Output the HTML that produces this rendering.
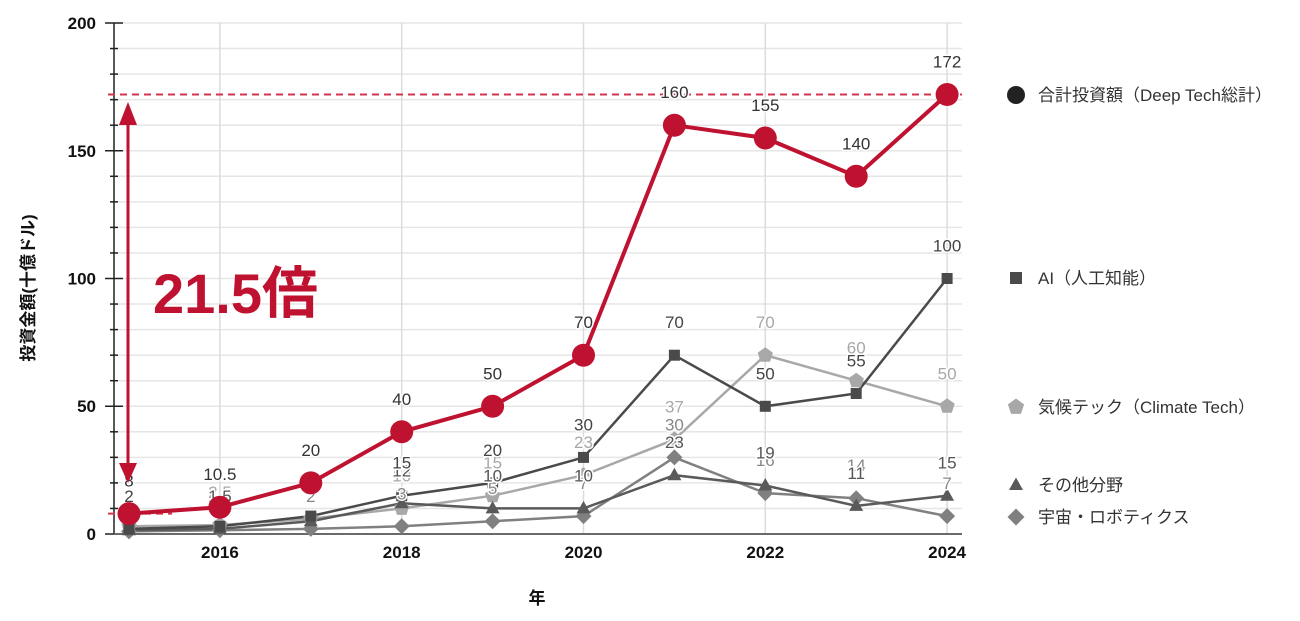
<!DOCTYPE html>
<html><head><meta charset="utf-8">
<style>
html,body{margin:0;padding:0;background:#fff;}
svg{display:block;}
text{font-family:"Liberation Sans","Noto Sans CJK JP",sans-serif;}
.lbl{font-size:17px;text-anchor:middle;paint-order:stroke;stroke:#fff;stroke-width:3px;stroke-linejoin:round;}
.tk{font-size:17px;font-weight:bold;fill:#111;}
.lg{font-size:17px;fill:#333;}
</style></head>
<body>
<svg width="1300" height="621" viewBox="0 0 1300 621" xmlns="http://www.w3.org/2000/svg">
<rect width="1300" height="621" fill="#fff"/>
<!-- horizontal gridlines -->
<g stroke="#e6e6e6" stroke-width="1.5">
<line x1="114" x2="962" y1="508.45" y2="508.45"/>
<line x1="114" x2="962" y1="482.9" y2="482.9"/>
<line x1="114" x2="962" y1="457.35" y2="457.35"/>
<line x1="114" x2="962" y1="431.8" y2="431.8"/>
<line x1="114" x2="962" y1="406.25" y2="406.25"/>
<line x1="114" x2="962" y1="380.7" y2="380.7"/>
<line x1="114" x2="962" y1="355.15" y2="355.15"/>
<line x1="114" x2="962" y1="329.6" y2="329.6"/>
<line x1="114" x2="962" y1="304.05" y2="304.05"/>
<line x1="114" x2="962" y1="278.5" y2="278.5"/>
<line x1="114" x2="962" y1="252.95" y2="252.95"/>
<line x1="114" x2="962" y1="227.4" y2="227.4"/>
<line x1="114" x2="962" y1="201.85" y2="201.85"/>
<line x1="114" x2="962" y1="176.3" y2="176.3"/>
<line x1="114" x2="962" y1="150.75" y2="150.75"/>
<line x1="114" x2="962" y1="125.2" y2="125.2"/>
<line x1="114" x2="962" y1="99.65" y2="99.65"/>
<line x1="114" x2="962" y1="74.1" y2="74.1"/>
<line x1="114" x2="962" y1="48.55" y2="48.55"/>
<line x1="114" x2="962" y1="23" y2="23"/>
</g>
<!-- vertical gridlines -->
<g stroke="#dcdcdc" stroke-width="1.5">
<line x1="219.9" x2="219.9" y1="23" y2="534"/>
<line x1="401.7" x2="401.7" y1="23" y2="534"/>
<line x1="583.5" x2="583.5" y1="23" y2="534"/>
<line x1="765.3" x2="765.3" y1="23" y2="534"/>
<line x1="947.1" x2="947.1" y1="23" y2="534"/>
</g>
<!-- y axis -->
<g stroke="#222" stroke-width="1.5">
<line x1="114" x2="114" y1="23" y2="534"/>
<line x1="105" x2="123" y1="23" y2="23"/>
<line x1="105" x2="123" y1="150.75" y2="150.75"/>
<line x1="105" x2="123" y1="278.5" y2="278.5"/>
<line x1="105" x2="123" y1="406.25" y2="406.25"/>
<line x1="105" x2="123" y1="534" y2="534"/>
<line x1="110" x2="118" y1="48.55" y2="48.55"/>
<line x1="110" x2="118" y1="74.1" y2="74.1"/>
<line x1="110" x2="118" y1="99.65" y2="99.65"/>
<line x1="110" x2="118" y1="125.2" y2="125.2"/>
<line x1="110" x2="118" y1="176.3" y2="176.3"/>
<line x1="110" x2="118" y1="201.85" y2="201.85"/>
<line x1="110" x2="118" y1="227.4" y2="227.4"/>
<line x1="110" x2="118" y1="252.95" y2="252.95"/>
<line x1="110" x2="118" y1="304.05" y2="304.05"/>
<line x1="110" x2="118" y1="329.6" y2="329.6"/>
<line x1="110" x2="118" y1="355.15" y2="355.15"/>
<line x1="110" x2="118" y1="380.7" y2="380.7"/>
<line x1="110" x2="118" y1="431.8" y2="431.8"/>
<line x1="110" x2="118" y1="457.35" y2="457.35"/>
<line x1="110" x2="118" y1="482.9" y2="482.9"/>
<line x1="110" x2="118" y1="508.45" y2="508.45"/>
</g>
<line x1="114" x2="962" y1="534" y2="534" stroke="#6a6a6a" stroke-width="2"/>
<!-- y tick labels -->
<g class="tk" text-anchor="end">
<text x="96" y="29">200</text>
<text x="96" y="157">150</text>
<text x="96" y="284.5">100</text>
<text x="96" y="412">50</text>
<text x="96" y="540">0</text>
</g>
<!-- x tick labels -->
<g class="tk" text-anchor="middle">
<text x="219.9" y="558">2016</text>
<text x="401.7" y="558">2018</text>
<text x="583.5" y="558">2020</text>
<text x="765.3" y="558">2022</text>
<text x="947.1" y="558">2024</text>
</g>
<text x="537" y="604" text-anchor="middle" style="font-size:17px;font-weight:bold;fill:#111;">年</text>
<text transform="translate(34,288) rotate(-90)" text-anchor="middle" style="font-size:17px;font-weight:bold;fill:#111;">投資金額(十億ドル)</text>

<!-- dashed lines -->
<line x1="108" x2="962" y1="94.5" y2="94.5" stroke="#D3354D" stroke-width="2" stroke-dasharray="7 5"/>
<line x1="108" x2="172" y1="513.6" y2="513.6" stroke="#D3354D" stroke-width="2" stroke-dasharray="7 5"/>

<!-- gray series lines -->
<polyline fill="none" stroke="#808080" stroke-width="2.5" points="129,531.4 219.9,530.2 310.8,528.9 401.7,526.3 492.6,521.2 583.5,516.1 674.4,457.4 765.3,493.1 856.2,498.2 947.1,516.1"/>
<polyline fill="none" stroke="#a8a8a8" stroke-width="2.5" points="129,526.3 219.9,525.1 310.8,518.7 401.7,508.4 492.6,495.7 583.5,475.2 674.4,439.5 765.3,355.2 856.2,380.7 947.1,406.3"/>
<polyline fill="none" stroke="#5a5a5a" stroke-width="2.5" points="129,530.2 219.9,528.9 310.8,521.2 401.7,503.3 492.6,508.4 583.5,508.4 674.4,475.2 765.3,485.5 856.2,505.9 947.1,495.7"/>
<polyline fill="none" stroke="#4a4a4a" stroke-width="2.5" points="129,528.9 219.9,526.3 310.8,516.1 401.7,495.7 492.6,482.9 583.5,457.4 674.4,355.2 765.3,406.3 856.2,393.5 947.1,278.5"/>

<!-- space diamonds -->
<g fill="#808080">
<polygon transform="translate(129,531.4)" points="0,-8 8,0 0,8 -8,0"/>
<polygon transform="translate(219.9,530.2)" points="0,-8 8,0 0,8 -8,0"/>
<polygon transform="translate(310.8,528.9)" points="0,-8 8,0 0,8 -8,0"/>
<polygon transform="translate(401.7,526.3)" points="0,-8 8,0 0,8 -8,0"/>
<polygon transform="translate(492.6,521.2)" points="0,-8 8,0 0,8 -8,0"/>
<polygon transform="translate(583.5,516.1)" points="0,-8 8,0 0,8 -8,0"/>
<polygon transform="translate(674.4,457.4)" points="0,-8 8,0 0,8 -8,0"/>
<polygon transform="translate(765.3,493.1)" points="0,-8 8,0 0,8 -8,0"/>
<polygon transform="translate(856.2,498.2)" points="0,-8 8,0 0,8 -8,0"/>
<polygon transform="translate(947.1,516.1)" points="0,-8 8,0 0,8 -8,0"/>
</g>
<!-- climate pentagons -->
<g fill="#a8a8a8">
<polygon transform="translate(129,526.3)" points="0,-8 7.6,-2.5 4.7,6.5 -4.7,6.5 -7.6,-2.5"/>
<polygon transform="translate(219.9,525.1)" points="0,-8 7.6,-2.5 4.7,6.5 -4.7,6.5 -7.6,-2.5"/>
<polygon transform="translate(310.8,518.7)" points="0,-8 7.6,-2.5 4.7,6.5 -4.7,6.5 -7.6,-2.5"/>
<polygon transform="translate(401.7,508.4)" points="0,-8 7.6,-2.5 4.7,6.5 -4.7,6.5 -7.6,-2.5"/>
<polygon transform="translate(492.6,495.7)" points="0,-8 7.6,-2.5 4.7,6.5 -4.7,6.5 -7.6,-2.5"/>
<polygon transform="translate(583.5,475.2)" points="0,-8 7.6,-2.5 4.7,6.5 -4.7,6.5 -7.6,-2.5"/>
<polygon transform="translate(674.4,439.5)" points="0,-8 7.6,-2.5 4.7,6.5 -4.7,6.5 -7.6,-2.5"/>
<polygon transform="translate(765.3,355.2)" points="0,-8 7.6,-2.5 4.7,6.5 -4.7,6.5 -7.6,-2.5"/>
<polygon transform="translate(856.2,380.7)" points="0,-8 7.6,-2.5 4.7,6.5 -4.7,6.5 -7.6,-2.5"/>
<polygon transform="translate(947.1,406.3)" points="0,-8 7.6,-2.5 4.7,6.5 -4.7,6.5 -7.6,-2.5"/>
</g>
<!-- other triangles -->
<g fill="#5a5a5a">
<polygon transform="translate(129,530.2)" points="0,-7.5 7,5 -7,5"/>
<polygon transform="translate(219.9,528.9)" points="0,-7.5 7,5 -7,5"/>
<polygon transform="translate(310.8,521.2)" points="0,-7.5 7,5 -7,5"/>
<polygon transform="translate(401.7,503.3)" points="0,-7.5 7,5 -7,5"/>
<polygon transform="translate(492.6,508.4)" points="0,-7.5 7,5 -7,5"/>
<polygon transform="translate(583.5,508.4)" points="0,-7.5 7,5 -7,5"/>
<polygon transform="translate(674.4,475.2)" points="0,-7.5 7,5 -7,5"/>
<polygon transform="translate(765.3,485.5)" points="0,-7.5 7,5 -7,5"/>
<polygon transform="translate(856.2,505.9)" points="0,-7.5 7,5 -7,5"/>
<polygon transform="translate(947.1,495.7)" points="0,-7.5 7,5 -7,5"/>
</g>
<!-- AI squares -->
<g fill="#4a4a4a">
<rect x="123.5" y="523.4" width="11" height="11"/>
<rect x="214.4" y="520.8" width="11" height="11"/>
<rect x="305.3" y="510.6" width="11" height="11"/>
<rect x="396.2" y="490.2" width="11" height="11"/>
<rect x="487.1" y="477.4" width="11" height="11"/>
<rect x="578" y="451.9" width="11" height="11"/>
<rect x="668.9" y="349.7" width="11" height="11"/>
<rect x="759.8" y="400.8" width="11" height="11"/>
<rect x="850.7" y="388" width="11" height="11"/>
<rect x="941.6" y="273" width="11" height="11"/>
</g>

<!-- gray labels -->
<g class="lbl" fill="#a8a8a8">
<text x="219.9" y="498">2.5</text>
<text x="401.7" y="481.4">10</text>
<text x="492.6" y="468.7">15</text>
<text x="583.5" y="448.2">23</text>
<text x="674.4" y="412.5">37</text>
<text x="765.3" y="328.2">70</text>
<text x="856.2" y="353.7">60</text>
<text x="947.1" y="379.3">50</text>
</g>
<g class="lbl" fill="#888">
<text x="310.8" y="501.9">2</text>
<text x="401.7" y="499.3">3</text>
<text x="492.6" y="494.2">5</text>
<text x="583.5" y="489.1">7</text>
<text x="674.4" y="430.4">30</text>
<text x="765.3" y="466.1">16</text>
<text x="856.2" y="471.2">14</text>
<text x="947.1" y="489.1">7</text>
</g>
<g class="lbl" fill="#555">
<text x="219.9" y="501.9">1.5</text>
<text x="401.7" y="476.3">12</text>
<text x="492.6" y="481.4">10</text>
<text x="583.5" y="481.4">10</text>
<text x="674.4" y="448.2">23</text>
<text x="765.3" y="458.5">19</text>
<text x="856.2" y="478.9">11</text>
<text x="947.1" y="468.7">15</text>
</g>
<g class="lbl" fill="#444">
<text x="129" y="501.9">2</text>
<text x="401.7" y="468.7">15</text>
<text x="492.6" y="455.9">20</text>
<text x="583.5" y="430.4">30</text>
<text x="674.4" y="328.2">70</text>
<text x="765.3" y="379.3">50</text>
<text x="856.2" y="366.5">55</text>
<text x="947.1" y="251.5">100</text>
</g>

<!-- total series -->
<polyline fill="none" stroke="#BF1230" stroke-width="4" stroke-linejoin="round" points="129,513.6 219.9,507.2 310.8,482.9 401.7,431.8 492.6,406.3 583.5,355.2 674.4,125.2 765.3,138 856.2,176.3 947.1,94.5"/>
<g fill="#BF1230">
<circle cx="129" cy="513.6" r="11.5"/>
<circle cx="219.9" cy="507.2" r="11.5"/>
<circle cx="310.8" cy="482.9" r="11.5"/>
<circle cx="401.7" cy="431.8" r="11.5"/>
<circle cx="492.6" cy="406.3" r="11.5"/>
<circle cx="583.5" cy="355.2" r="11.5"/>
<circle cx="674.4" cy="125.2" r="11.5"/>
<circle cx="765.3" cy="138" r="11.5"/>
<circle cx="856.2" cy="176.3" r="11.5"/>
<circle cx="947.1" cy="94.5" r="11.5"/>
</g>
<g class="lbl" fill="#333">
<text x="129" y="486.6">8</text>
<text x="219.9" y="480.2">10.5</text>
<text x="310.8" y="455.9">20</text>
<text x="401.7" y="404.8">40</text>
<text x="492.6" y="379.3">50</text>
<text x="583.5" y="328.2">70</text>
<text x="674.4" y="98.2">160</text>
<text x="765.3" y="111">155</text>
<text x="856.2" y="149.3">140</text>
<text x="947.1" y="67.5">172</text>
</g>

<!-- arrow -->
<line x1="128" x2="128" y1="122" y2="466" stroke="#BF1230" stroke-width="3"/>
<polygon points="128,102 119,125 137,125" fill="#BF1230"/>
<polygon points="128,483 119,463 137,463" fill="#BF1230"/>
<text x="153" y="313" style="font-size:56px;font-weight:bold;fill:#BF1230;">21.5倍</text>

<!-- legend -->
<circle cx="1016" cy="95" r="9" fill="#222"/>
<text class="lg" x="1038" y="101">合計投資額（Deep Tech総計）</text>
<rect x="1010" y="272" width="12" height="12" fill="#4a4a4a"/>
<text class="lg" x="1038" y="284">AI（人工知能）</text>
<polygon transform="translate(1016,407)" points="0,-8.5 8.1,-2.6 5,6.9 -5,6.9 -8.1,-2.6" fill="#a8a8a8"/>
<text class="lg" x="1038" y="413">気候テック（Climate Tech）</text>
<polygon transform="translate(1016,485)" points="0,-7.5 7,5 -7,5" fill="#5a5a5a"/>
<text class="lg" x="1038" y="491">その他分野</text>
<polygon transform="translate(1016,517)" points="0,-8.5 8.5,0 0,8.5 -8.5,0" fill="#808080"/>
<text class="lg" x="1038" y="523">宇宙・ロボティクス</text>
</svg>
</body></html>
